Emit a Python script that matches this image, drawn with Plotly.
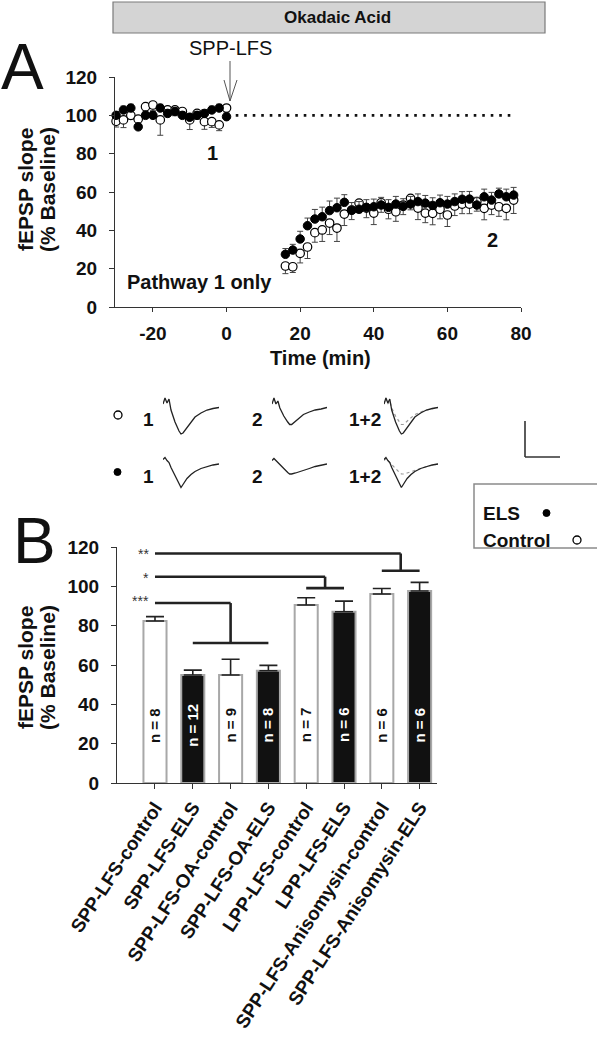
import plotly.graph_objects as go

W, H = 597, 1050
FONT = "Liberation Sans, Arial, sans-serif"

# ---------------- Panel A data ----------------
time_base = [-30, -28, -26, -24, -22, -20, -18, -16, -14, -12, -10, -8, -6, -4, -2, 0]
ctrl_base = [96.9, 97.6, 100, 98, 104.5, 105.4, 97.6, 102.8, 102.8, 102, 97.6, 101, 96.7, 96.7, 95, 103.8]
els_base = [100, 102.8, 103.8, 94, 100, 100, 103.8, 101, 102, 100, 99, 100, 101, 102.8, 103.8, 99.3]
ctrl_base_err = [3, 4, 2, 3, 3, 3, 8, 3, 3, 3, 5, 3, 4, 3, 3, 3]
els_base_err = [2, 2, 2, 2, 2, 2, 2, 2, 2, 2, 2, 2, 2, 2, 2, 2]

time_post = [16, 18, 20, 22, 24, 26, 28, 30, 32, 34, 36, 38, 40, 42, 44, 46,
             48, 50, 52, 54, 56, 58, 60, 62, 64, 66, 68, 70, 72, 74, 76, 78]
ctrl_post = [21.4, 21, 28, 31.3, 38.8, 40.2, 43.8, 41.2, 48.5, 50.6, 54.2, 51.6, 49, 54.4, 51, 49.7,
             53.2, 56.7, 51.6, 49, 48.9, 51, 48, 52.7, 53.7, 53.7, 55, 51.5, 53.2, 52.3, 51.5, 55.8]
els_post = [27.5, 29.7, 35.5, 42.4, 45.9, 47.1, 50.3, 51.8, 54.6, 50.5, 51, 52, 52.3, 53.2, 52, 53.7,
            52.5, 53.7, 55, 54.2, 53, 54.4, 53.7, 55, 56.2, 56.3, 53.2, 57.5, 55.8, 59, 57.5, 58.4]
ctrl_post_err = [4, 3, 5, 6, 5, 6, 6, 7, 6, 5, 5, 5, 6, 5, 5, 5,
                 5, 6, 6, 5, 6, 5, 6, 5, 5, 5, 5, 6, 5, 5, 6, 7]
els_post_err = [3, 3, 4, 4, 5, 5, 5, 5, 4, 4, 4, 4, 4, 4, 4, 4,
                4, 4, 4, 4, 4, 4, 4, 4, 4, 4, 4, 4, 4, 3, 4, 4]

a_yticks = [0, 20, 40, 60, 80, 100, 120]
a_xticks = [-20, 0, 20, 40, 60, 80]
a_xticktext = ["-20", "0", "20", "40", "60", "80"]

# ---------------- example traces ----------------
wave_t = [0, 1, 2, 3, 4, 6, 8, 9, 10, 12, 14, 16, 19, 22, 25, 28]
ctrl_wave1 = [0, 6, 1, 5, -6, -18, -27, -30, -29, -24, -18, -13, -9, -6, -4.5, -3.5]
ctrl_wave2 = [0, 6, 0, 3, -4, -12, -18, -20.5, -20.5, -17, -13, -10.5, -8, -6, -5, -3.5]
els_wave1 = [1, 3, 0, -2, -7, -15, -23, -27, -24, -18, -14, -11, -8, -6, -4.5, -3.5]
els_wave2 = [0, 2, 0, -2, -5, -9, -12, -13.5, -13.5, -12.5, -11, -10, -8, -6, -5, -3.5]

# ---------------- Panel B data ----------------
groups = ["SPP-LFS-control", "SPP-LFS-ELS", "SPP-LFS-OA-control", "SPP-LFS-OA-ELS",
          "LPP-LFS-control", "LPP-LFS-ELS", "SPP-LFS-Anisomysin-control", "SPP-LFS-Anisomysin-ELS"]
bar_mean = [82.4, 54.9, 54.9, 57.1, 90.5, 87.1, 96.1, 97.6]
bar_sem = [2.2, 2.5, 8.0, 2.7, 3.7, 5.4, 2.8, 4.4]
bar_n = [8, 12, 9, 8, 7, 6, 6, 6]
bar_is_els = [False, True, False, True, False, True, False, True]
b_yticks = [0, 20, 40, 60, 80, 100, 120]


def fx(px):
    return px / W


def fy(py):
    return 1 - py / H


fig = go.Figure()

fig.add_trace(go.Scatter(
    x=time_base + time_post, y=ctrl_base + ctrl_post, mode="markers",
    marker=dict(symbol="circle", size=8.5, color="white", line=dict(color="black", width=1.2)),
    error_y=dict(type="data", symmetric=False, array=[0] * (len(time_base) + len(time_post)),
                 arrayminus=ctrl_base_err + ctrl_post_err, color="#444", thickness=1, width=3),
    xaxis="x", yaxis="y", showlegend=False, cliponaxis=False))
fig.add_trace(go.Scatter(
    x=time_base + time_post, y=els_base + els_post, mode="markers",
    marker=dict(symbol="circle", size=8.5, color="black", line=dict(color="black", width=1)),
    error_y=dict(type="data", symmetric=False, array=els_base_err + els_post_err,
                 arrayminus=[0] * (len(time_base) + len(time_post)), color="#444", thickness=1, width=3),
    xaxis="x", yaxis="y", showlegend=False, cliponaxis=False))

fig.add_trace(go.Bar(
    x=list(range(len(groups))), y=bar_mean, width=0.61,
    marker=dict(color=["#111111" if e else "white" for e in bar_is_els],
                line=dict(color="#a8a8a8", width=2)),
    error_y=dict(type="data", symmetric=False, array=bar_sem, arrayminus=[0] * len(groups),
                 color="#222", thickness=1.6, width=9),
    xaxis="x2", yaxis="y2", showlegend=False))

trace_sets = [
    (3, [(ctrl_wave1, "#222", "solid", 1.3)]),
    (4, [(ctrl_wave2, "#222", "solid", 1.3)]),
    (5, [(ctrl_wave2, "#9a9a9a", "dot", 1.2), (ctrl_wave1, "#222", "solid", 1.3)]),
    (6, [(els_wave1, "#222", "solid", 1.3)]),
    (7, [(els_wave2, "#222", "solid", 1.3)]),
    (8, [(els_wave2, "#9a9a9a", "dot", 1.2), (els_wave1, "#222", "solid", 1.3)]),
]
for idx, lines in trace_sets:
    for wave, col, dash, lw in lines:
        fig.add_trace(go.Scatter(x=wave_t, y=wave, mode="lines",
                                 line=dict(color=col, width=lw, dash=dash),
                                 xaxis=f"x{idx}", yaxis=f"y{idx}", showlegend=False,
                                 hoverinfo="skip"))

tickfont = dict(family=FONT, size=19, color="#111", weight="bold")
axcommon = dict(ticks="outside", tickwidth=1, tickcolor="#333", showline=True, linecolor="#333",
                linewidth=1, showgrid=False, zeroline=False, automargin=False)

layout = dict(
    width=W, height=H, autosize=False,
    margin=dict(l=0, r=0, t=0, b=0, pad=0),
    paper_bgcolor="white", plot_bgcolor="white",
    font=dict(family=FONT, color="#111"),
    xaxis=dict(domain=[fx(115), fx(521)], range=[-30.3, 80], anchor="y",
               tickvals=a_xticks, ticktext=a_xticktext, ticklen=4, tickfont=tickfont,
               ticklabelstandoff=5, **axcommon),
    yaxis=dict(domain=[fy(307), fy(77)], range=[0, 120], anchor="x",
               tickvals=a_yticks, ticklen=5, tickfont=tickfont, ticklabelstandoff=8, **axcommon),
    xaxis2=dict(domain=[fx(117), fx(437)], range=[-1.005, 7.46], anchor="y2",
                tickvals=list(range(len(groups))), ticktext=groups, tickangle=-57,
                ticklen=5, tickfont=dict(family=FONT, size=19, color="#111", weight="bold"),
                **axcommon),
    yaxis2=dict(domain=[fy(783), fy(547)], range=[0, 120], anchor="x2",
                tickvals=b_yticks, ticklen=5, tickfont=tickfont, ticklabelstandoff=8, **axcommon),
)

col_dom = [(163, 219), (272, 327), (384, 438)]
row_dom = [(394, 440), (450.5, 496.5)]
for r in range(2):
    for c in range(3):
        idx = 3 + r * 3 + c
        layout[f"xaxis{idx}"] = dict(domain=[fx(col_dom[c][0]), fx(col_dom[c][1])], range=[0, 28],
                                     visible=False, anchor=f"y{idx}", automargin=False)
        layout[f"yaxis{idx}"] = dict(domain=[fy(row_dom[r][1]), fy(row_dom[r][0])], range=[-36, 10],
                                     visible=False, anchor=f"x{idx}", automargin=False)
fig.update_layout(**layout)

shapes = []
shapes.append(dict(type="rect", xref="paper", yref="paper", x0=fx(113), x1=fx(545), y0=fy(33), y1=fy(2),
                   fillcolor="#d4d4d4", line=dict(color="#7a7a7a", width=1.2), layer="below"))
shapes.append(dict(type="line", xref="x", yref="y", x0=2.5, x1=78, y0=100, y1=100,
                   line=dict(color="#111", width=2.6, dash="2.6px,5.9px")))
shapes.append(dict(type="line", xref="paper", yref="paper", x0=fx(230), x1=fx(230), y0=fy(61), y1=fy(101),
                   line=dict(color="#555", width=1)))
shapes.append(dict(type="line", xref="paper", yref="paper", x0=fx(224), x1=fx(230), y0=fy(80), y1=fy(101),
                   line=dict(color="#555", width=1)))
shapes.append(dict(type="line", xref="paper", yref="paper", x0=fx(237), x1=fx(230), y0=fy(80), y1=fy(101),
                   line=dict(color="#555", width=1)))
shapes.append(dict(type="line", xref="paper", yref="paper", x0=fx(525), x1=fx(525), y0=fy(421), y1=fy(457),
                   line=dict(color="#333", width=1.6)))
shapes.append(dict(type="line", xref="paper", yref="paper", x0=fx(525), x1=fx(560), y0=fy(457), y1=fy(457),
                   line=dict(color="#333", width=1.6)))
shapes.append(dict(type="rect", xref="paper", yref="paper", x0=fx(474), x1=fx(600), y0=fy(548), y1=fy(484),
                   line=dict(color="#8a8a8a", width=1.5), fillcolor="white", layer="below"))
shapes.append(dict(type="circle", xref="paper", yref="paper", x0=fx(543), x1=fx(550), y0=fy(516.5), y1=fy(509.5),
                   fillcolor="black", line=dict(color="black", width=1)))
shapes.append(dict(type="circle", xref="paper", yref="paper", x0=fx(573), x1=fx(581), y0=fy(544), y1=fy(536),
                   fillcolor="white", line=dict(color="black", width=1.3)))
shapes.append(dict(type="circle", xref="paper", yref="paper", x0=fx(114), x1=fx(122), y0=fy(419), y1=fy(411),
                   fillcolor="white", line=dict(color="black", width=1.3)))
shapes.append(dict(type="circle", xref="paper", yref="paper", x0=fx(114), x1=fx(121), y0=fy(475.5), y1=fy(468.5),
                   fillcolor="black", line=dict(color="black", width=1)))

br = dict(color="#222", width=2.6)
for (y_top, x_end, y_low, x_lo0, x_lo1) in [(91.5, 2.0, 71.2, 1.0, 3.0),
                                             (104.9, 4.5, 99.1, 4.0, 5.0),
                                             (116.7, 6.5, 107.9, 6.0, 7.0)]:
    shapes.append(dict(type="line", xref="x2", yref="y2", x0=0, x1=x_end, y0=y_top, y1=y_top, line=br))
    shapes.append(dict(type="line", xref="x2", yref="y2", x0=x_end, x1=x_end, y0=y_top, y1=y_low, line=br))
    shapes.append(dict(type="line", xref="x2", yref="y2", x0=x_lo0, x1=x_lo1, y0=y_low, y1=y_low, line=br))

fig.update_layout(shapes=shapes)

ann = []


def txt(x, y, s, size=19, bold=True, xanchor="center", yanchor="middle", angle=0, color="#111",
        xref="paper", yref="paper"):
    ann.append(dict(x=x, y=y, xref=xref, yref=yref, text=s, showarrow=False, xanchor=xanchor,
                    yanchor=yanchor, textangle=angle,
                    font=dict(family=FONT, size=size, color=color, weight="bold" if bold else "normal")))


txt(fx(337), fy(18), "Okadaic Acid", size=17)
txt(fx(22), fy(67), "A", size=64, bold=False)
txt(fx(34), fy(541), "B", size=64, bold=False)
txt(fx(230), fy(48), "SPP-LFS", size=20, bold=False)
txt(fx(212), fy(153), "1", size=20)
txt(fx(493), fy(240), "2", size=20)
txt(fx(125), fy(282), "Pathway 1 only", size=20, xanchor="left")
txt(fx(320), fy(358), "Time (min)", size=20)
for yc in (190, 668):
    txt(fx(25), fy(yc), "fEPSP slope", size=21, angle=-90)
    txt(fx(47), fy(yc), "(% Baseline)", size=21, angle=-90)
for yrow in (419, 476):
    txt(fx(148), fy(yrow), "1", size=19)
    txt(fx(257), fy(yrow), "2", size=19)
    txt(fx(365), fy(yrow), "1+2", size=19)
txt(fx(481), fy(513), "ELS", size=19, xanchor="left")
txt(fx(481), fy(540), "Control", size=19, xanchor="left")
txt(-0.1, 116.4, "**", size=14, bold=False, xanchor="right", color="#333", xref="x2", yref="y2")
txt(-0.1, 104.4, "*", size=14, bold=False, xanchor="right", color="#333", xref="x2", yref="y2")
txt(-0.1, 92.5, "***", size=14, bold=False, xanchor="right", color="#333", xref="x2", yref="y2")
for i, (n, e) in enumerate(zip(bar_n, bar_is_els)):
    txt(i, 29.5, f"n = {n}", size=15, angle=-90, color="white" if e else "#111", xref="x2", yref="y2")

fig.update_layout(annotations=ann)
fig.write_html("out.html", config={"displayModeBar": False},
               post_script="document.body.style.margin='0';document.body.style.padding='0';")
